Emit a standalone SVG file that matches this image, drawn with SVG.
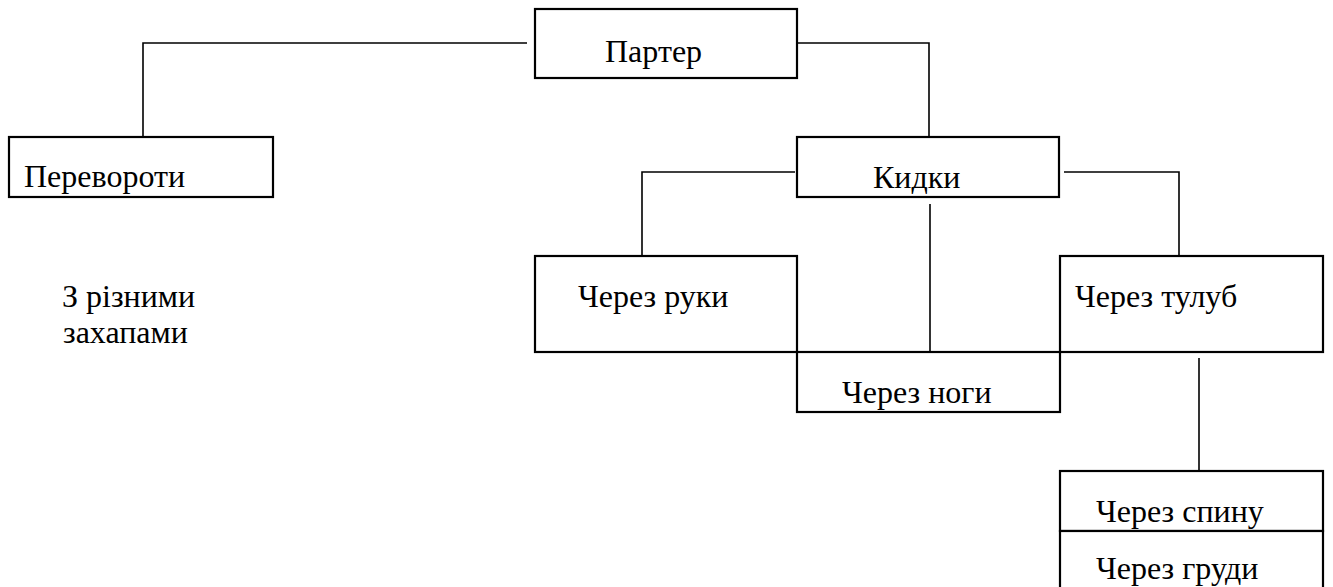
<svg xmlns="http://www.w3.org/2000/svg" width="1333" height="587" viewBox="0 0 1333 587">
  <style>
    .box { fill: #ffffff; stroke: #000000; stroke-width: 2.2; }
    .lbl { font-family: "Liberation Serif", "Times New Roman", serif; font-size: 32px; fill: #000000; }
    .conn { fill: none; stroke: #000000; stroke-width: 1.6; }
  </style>
  <rect x="0" y="0" width="1333" height="587" fill="#ffffff"/>

  <g id="connectors">
    <polyline class="conn" points="527,43 143,43 143,137"/>
    <polyline class="conn" points="797,43 929,43 929,137"/>
    <polyline class="conn" points="795,172 642,172 642,268"/>
    <polyline class="conn" points="1064,172 1179,172 1179,268"/>
    <line class="conn" x1="930" y1="204" x2="930" y2="377"/>
    <line class="conn" x1="1199" y1="358" x2="1199" y2="493"/>
  </g>

  <g id="node-parter">
    <rect class="box" x="535" y="9" width="262" height="69"/>
    <text class="lbl" x="605" y="62">Партер</text>
  </g>

  <g id="node-perevoroty">
    <rect class="box" x="9" y="137" width="264" height="60"/>
    <text class="lbl" x="24" y="187">Перевороти</text>
  </g>

  <g id="node-zakhvaty">
    <text class="lbl" x="62" y="307">З різними</text>
    <text class="lbl" x="63" y="343">захапами</text>
  </g>

  <g id="node-kydky">
    <rect class="box" x="797" y="137" width="262" height="60"/>
    <text class="lbl" x="873" y="188">Кидки</text>
  </g>

  <g id="node-cherez-ruky">
    <rect class="box" x="535" y="256" width="262" height="96"/>
    <text class="lbl" x="578" y="307">Через руки</text>
  </g>

  <g id="node-cherez-nohy">
    <rect class="box" x="797" y="352" width="263" height="60"/>
    <text class="lbl" x="842" y="403">Через ноги</text>
  </g>

  <g id="node-cherez-tulub">
    <rect class="box" x="1060" y="256" width="263" height="96"/>
    <text class="lbl" x="1075" y="307">Через тулуб</text>
  </g>

  <g id="node-cherez-spynu">
    <rect class="box" x="1060" y="471" width="263" height="60"/>
    <text class="lbl" x="1096" y="522">Через спину</text>
  </g>

  <g id="node-cherez-grudy">
    <rect class="box" x="1060" y="531" width="263" height="70"/>
    <text class="lbl" x="1096" y="579">Через груди</text>
  </g>
</svg>
